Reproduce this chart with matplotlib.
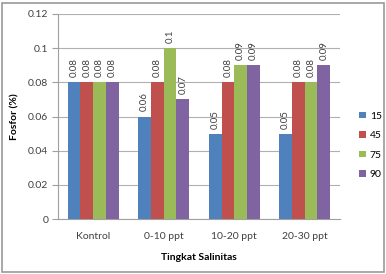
import matplotlib
matplotlib.use("Agg")
import matplotlib.pyplot as plt
import numpy as np
from matplotlib.patches import Rectangle

categories = ["Kontrol", "0-10 ppt", "10-20 ppt", "20-30 ppt"]
series_names = ["15", "45", "75", "90"]
s15 = [0.08, 0.06, 0.05, 0.05]
s45 = [0.08, 0.08, 0.08, 0.08]
s75 = [0.08, 0.10, 0.09, 0.08]
s90 = [0.08, 0.07, 0.09, 0.09]
labels15 = ["0.08", "0.06", "0.05", "0.05"]
labels45 = ["0.08", "0.08", "0.08", "0.08"]
labels75 = ["0.08", "0.1", "0.09", "0.08"]
labels90 = ["0.08", "0.07", "0.09", "0.09"]
yticks = [0, 0.02, 0.04, 0.06, 0.08, 0.1, 0.12]
ytick_labels = ["0", "0.02", "0.04", "0.06", "0.08", "0.1", "0.12"]

colors = ["#4F81BD", "#C0504D", "#9BBB59", "#8064A2"]
plt.rcParams['font.family'] = ['Lato', 'DejaVu Sans']

fig = plt.figure(figsize=(3.86, 2.74), dpi=100)
ax = fig.add_axes([0.150, 0.200, 0.731, 0.749])
fig.patches.append(Rectangle((0.004, 0.008), 0.99, 0.982, transform=fig.transFigure,
                             fill=False, edgecolor="#9a9a9a", linewidth=1.2))

x = np.arange(len(categories))
w = 0.18
all_s = [s15, s45, s75, s90]
all_l = [labels15, labels45, labels75, labels90]
for i, (vals, labs) in enumerate(zip(all_s, all_l)):
    xs = x + (i - 1.5) * w
    ax.bar(xs, vals, width=w, color=colors[i], label=series_names[i], zorder=3)
    for xi, v, lab in zip(xs, vals, labs):
        ax.text(xi, v + 0.003, lab, rotation=90, ha="center", va="bottom",
                fontsize=7, color="#404040")

ax.set_xlim(-0.5, 3.5)
ax.set_ylim(0, 0.12)
ax.set_yticks(yticks)
ax.set_yticklabels(ytick_labels)
ax.set_xticks(x)
ax.set_xticklabels(categories)
ax.tick_params(axis="y", labelsize=7.5, colors="#404040", length=4, color="#a0a0a0", pad=3)
ax.tick_params(axis="x", labelsize=7.5, colors="#404040", length=0, pad=9)
ax.grid(axis="y", color="#b0b0b0", linewidth=0.8, zorder=0)
for s in ["top", "right"]:
    ax.spines[s].set_visible(False)
ax.spines["left"].set_color("#a0a0a0")
ax.spines["bottom"].set_color("#a0a0a0")
ax.set_ylabel("Fosfor (%)", fontsize=7.5, fontweight="bold", labelpad=6)
ax.set_xlabel("Tingkat Salinitas", fontsize=7.5, fontweight="bold", labelpad=9)

leg = ax.legend(loc="center left", bbox_to_anchor=(1.035, 0.36), frameon=False,
                fontsize=7.5, handlelength=0.6, handleheight=0.6, handletextpad=0.4,
                labelspacing=1.0)

fig.savefig("out.png", dpi=100)
